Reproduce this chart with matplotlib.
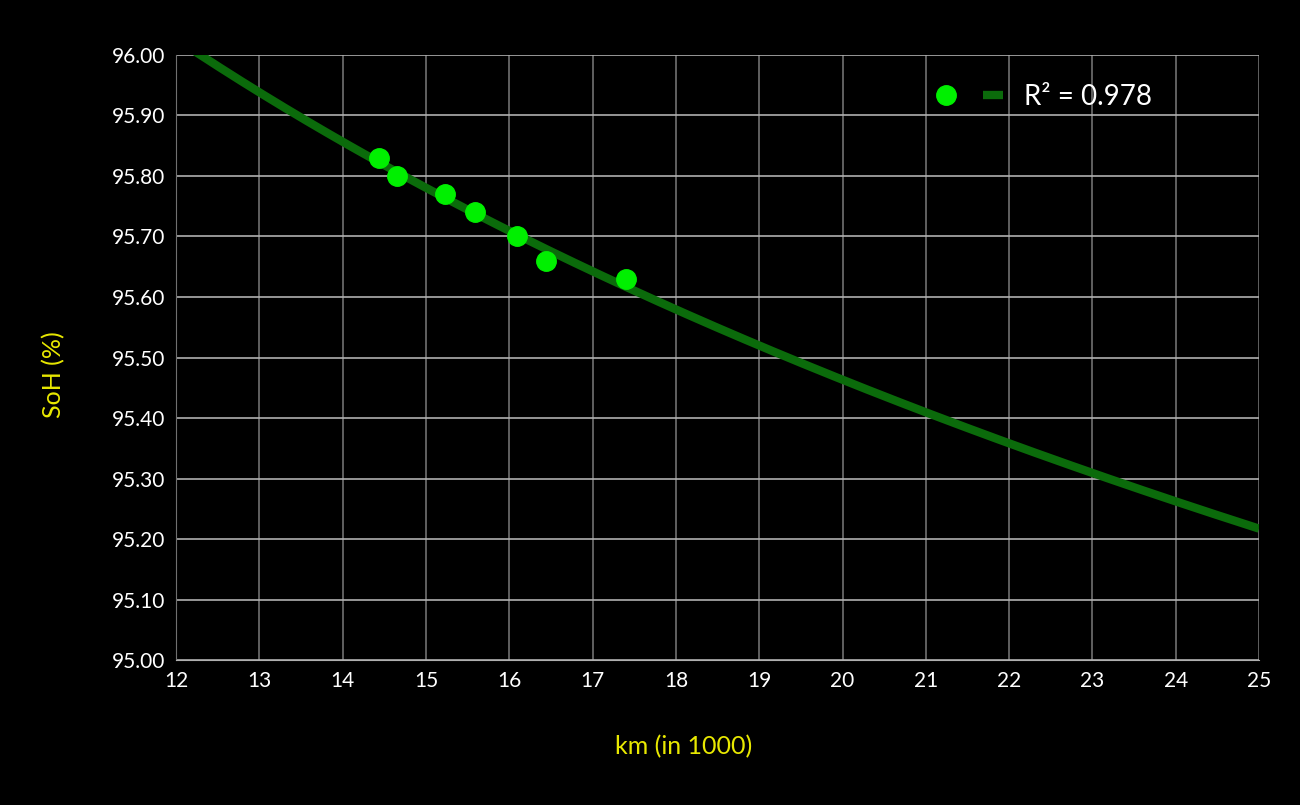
import matplotlib

matplotlib.use('agg')
import matplotlib.pyplot as plt
from matplotlib.legend_handler import HandlerTuple
from matplotlib.lines import Line2D
import numpy as np

# data
km = [14.44, 14.65, 15.23, 15.59, 16.09, 16.44, 17.40]
soh = [95.83, 95.80, 95.77, 95.74, 95.70, 95.66, 95.63]
r2_label = "R² = 0.978"
x_ticks = list(range(12, 26))
y_ticks = [95.0 + 0.1 * i for i in range(11)]

plt.rcParams['font.family'] = ['Lato', 'DejaVu Sans']

fig = plt.figure(figsize=(13, 8.05), dpi=100, facecolor='black')
ax = fig.add_axes([0.1354, 0.1801, 0.8331, 0.7516])
ax.set_facecolor('black')

#logarithmic trend line fitted on the points
b, a = np.polyfit(np.log(km), soh, 1)
xs = np.linspace(12, 25, 300)
ax.plot(xs, a + b * np.log(xs), color='#0b6b0b', lw=6, solid_capstyle='butt', zorder=2)
ax.plot(km, soh, 'o', color='#00f000', markersize=14, zorder=3)

ax.set_xlim(12, 25)
ax.set_ylim(95.0, 96.0)
ax.set_xticks(x_ticks)
ax.set_yticks(y_ticks)
ax.set_yticklabels([f"{v:.2f}" for v in y_ticks])
ax.tick_params(colors='white', labelsize=15, length=0, pad=8)

ax.grid(axis='y', color='#b0b0b0', lw=1.2)
ax.grid(axis='x', color='#707070', lw=1.2)
ax.set_axisbelow(True)
for side in ['top', 'right']:
  ax.spines[side].set_visible(False)
ax.spines['left'].set_color('#707070')
ax.spines['bottom'].set_color('#b0b0b0')

ax.set_xlabel('km (in 1000)', color='#e8e800', fontsize=18, va='center')
ax.set_ylabel('SoH (%)', color='#e8e800', fontsize=18, va='center')
ax.xaxis.set_label_coords(0.469, -0.144)
ax.yaxis.set_label_coords(-0.1127, 0.4725)

pt = Line2D([], [], marker='o', ls='', color='#00f000', markersize=14)
ln = Line2D([], [], marker='_', ls='', color='#0b6b0b', markersize=15, markeredgewidth=6)
leg = ax.legend([(pt, ln)], [r2_label],
                handler_map={tuple: HandlerTuple(ndivide=None, pad=0.61)},
                handlelength=2.77, loc='upper right', bbox_to_anchor=(0.9246, 0.993),
                frameon=False, fontsize=20, labelcolor='white', handletextpad=0.6)

fig.savefig('out.png', facecolor='black')
